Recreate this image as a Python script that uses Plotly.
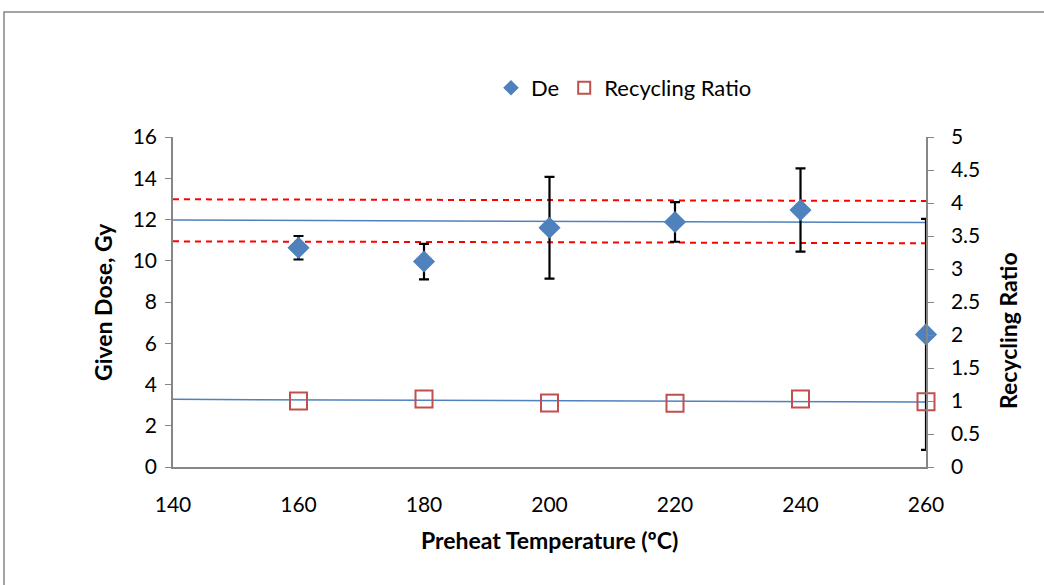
import plotly.graph_objects as go

temps = [160, 180, 200, 220, 240, 260]
de = [10.63, 9.96, 11.6, 11.88, 12.46, 6.43]
de_err = [0.57, 0.86, 2.47, 0.96, 2.02, 5.6]
rr = [1.0, 1.03, 0.97, 0.965, 1.03, 0.99]

line_x = [140, 260]
de_trend = [11.97, 11.86]
rr_trend = [3.28, 3.15]
upper_dash = [12.98, 12.9]
lower_dash = [10.94, 10.85]

FONT = "Lato, 'Open Sans', sans-serif"
blue = "#4F81BD"
red = "#C0504D"
gray = "#868686"

fig = go.Figure()

for ys in (de_trend, rr_trend):
    fig.add_trace(go.Scatter(x=line_x, y=ys, mode="lines", line=dict(color=blue, width=1.5),
                             showlegend=False, hoverinfo="skip"))
for ys in (upper_dash, lower_dash):
    fig.add_trace(go.Scatter(x=line_x, y=ys, mode="lines",
                             line=dict(color="#FF0000", width=2, dash="6px,5px"),
                             showlegend=False, hoverinfo="skip"))

fig.add_trace(go.Scatter(x=temps, y=de, mode="markers", name="De",
                         marker=dict(symbol="diamond", size=17, color=blue),
                         error_y=dict(type="data", array=de_err, color="black", thickness=2.2, width=5),
                         cliponaxis=False))
fig.add_trace(go.Scatter(x=temps, y=rr, mode="markers", name="Recycling Ratio", yaxis="y2",
                         marker=dict(symbol="square-open", size=17, color=red, line=dict(width=2)),
                         cliponaxis=False))

L, R, T, B = 173, 118, 137, 118
W, H = 1044, 585
pw, ph = W - L - R, H - T - B

def px(x):
    return (x - L) / pw

def py(y):
    return (H - B - y) / ph

fig.add_shape(type="rect", xref="paper", yref="paper",
              x0=px(4), x1=px(1060), y0=py(12), y1=py(600),
              line=dict(color=gray, width=1.5), fillcolor="rgba(0,0,0,0)", layer="below")

TICK = 21
fig.update_layout(
    width=W, height=H,
    margin=dict(l=L, r=R, t=T, b=B),
    paper_bgcolor="white", plot_bgcolor="white",
    font=dict(family=FONT, size=TICK, color="black"),
    showlegend=True,
    legend=dict(orientation="h", x=px(624), xanchor="center", y=py(88), yanchor="middle",
                font=dict(size=22), itemsizing="constant", bgcolor="rgba(0,0,0,0)",
                tracegroupgap=0, itemwidth=30),
    xaxis=dict(range=[140, 260], dtick=20, tick0=140, showgrid=False, zeroline=False,
               showline=True, linecolor=gray, linewidth=1.5, ticks="",
               tickfont=dict(size=TICK), ticklabelstandoff=18),
    yaxis=dict(range=[0, 16], dtick=2, showgrid=False, zeroline=False,
               showline=True, linecolor=gray, linewidth=1.5, ticks="outside",
               ticklen=6, tickcolor=gray, tickfont=dict(size=TICK), ticklabelstandoff=4),
    yaxis2=dict(range=[0, 5], dtick=0.5, overlaying="y", side="right", showgrid=False,
                zeroline=False, showline=True, linecolor=gray, linewidth=1.5,
                ticks="outside", ticklen=6, tickcolor=gray, tickfont=dict(size=TICK),
                ticklabelstandoff=13),
)

TT = 23
fig.add_annotation(text="<b>Given Dose, Gy</b>", xref="paper", yref="paper",
                   x=px(103), y=py(302), textangle=-90, showarrow=False,
                   font=dict(size=TT), xanchor="center", yanchor="middle")
fig.add_annotation(text="<b>Recycling Ratio</b>", xref="paper", yref="paper",
                   x=px(1008), y=py(330), textangle=-90, showarrow=False,
                   font=dict(size=TT), xanchor="center", yanchor="middle")
fig.add_annotation(text="<b>Preheat Temperature (ºC)</b>", xref="paper", yref="paper",
                   x=px(549), y=py(540), showarrow=False,
                   font=dict(size=TT), xanchor="center", yanchor="middle")

fig.write_html("out.html")
